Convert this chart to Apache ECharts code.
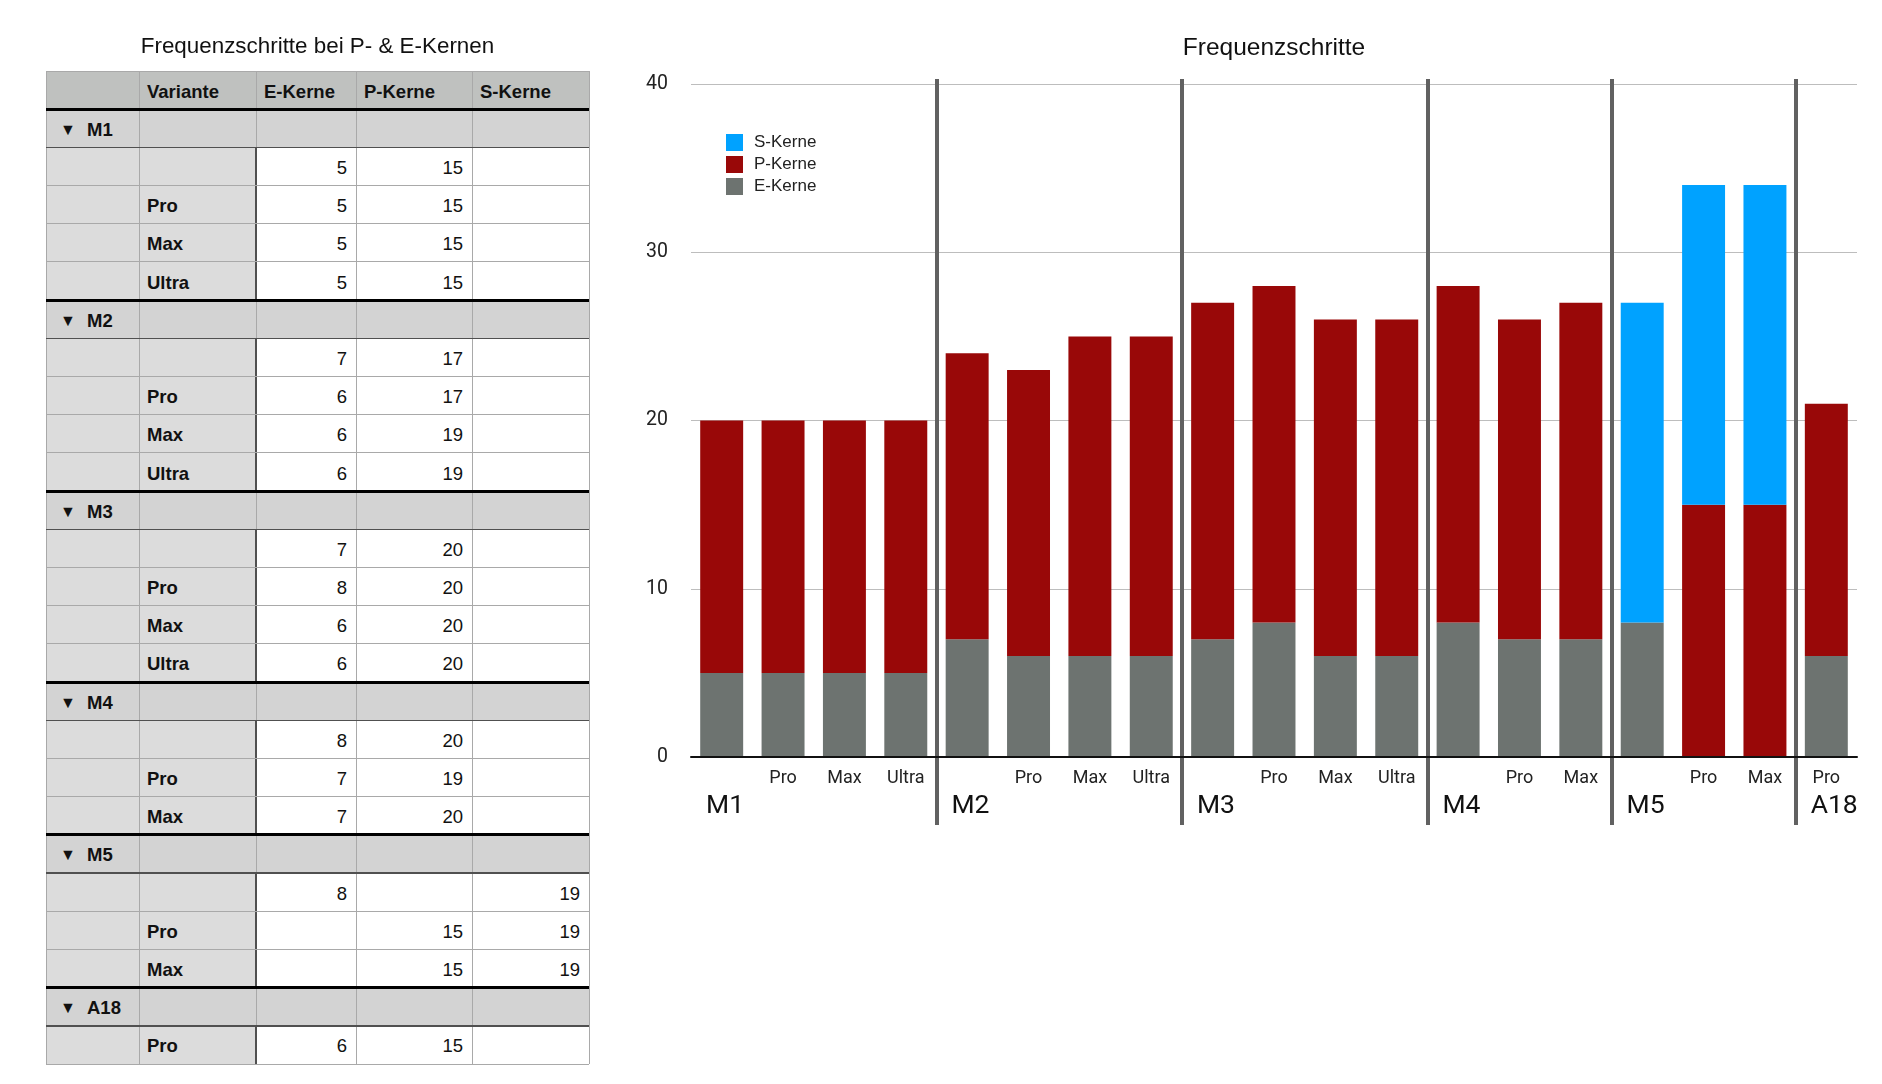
<!DOCTYPE html>
<html><head><meta charset="utf-8">
<script src="https://cdn.jsdelivr.net/npm/echarts@6/dist/echarts.min.js"></script>
<style>
html,body{margin:0;padding:0;background:#fff;width:1882px;height:1084px;overflow:hidden;}
#chart{position:absolute;left:0;top:0;width:1882px;height:1084px;}
#table{position:absolute;left:0;top:0;width:640px;height:1084px;font-family:"Liberation Sans",Arial,sans-serif;color:#111;}
.cell{position:absolute;box-sizing:border-box;display:flex;align-items:center;font-size:18.5px;white-space:nowrap;padding-top:3px;}
.ln{position:absolute;}
.ttl{position:absolute;font-size:22.4px;white-space:nowrap;transform:translate(-50%,-50%);}
</style></head><body>
<div id="chart"></div>
<div id="table"></div>
<script>
// ---- data ----
const tableTitle = 'Frequenzschritte bei P- & E-Kernen';
const chartTitle = 'Frequenzschritte';
const groups = ['M1', 'M2', 'M3', 'M4', 'M5', 'A18'];
const variants = [
  ['', 'Pro', 'Max', 'Ultra'],
  ['', 'Pro', 'Max', 'Ultra'],
  ['', 'Pro', 'Max', 'Ultra'],
  ['', 'Pro', 'Max'],
  ['', 'Pro', 'Max'],
  ['Pro']
];
const eKerne = [[5, 5, 5, 5], [7, 6, 6, 6], [7, 8, 6, 6], [8, 7, 7], [8, null, null], [6]];
const pKerne = [[15, 15, 15, 15], [17, 17, 19, 19], [20, 20, 20, 20], [20, 19, 20], [null, 15, 15], [15]];
const sKerne = [[null, null, null, null], [null, null, null, null], [null, null, null, null], [null, null, null], [19, 19, 19], [null]];
const columnHeaders = ['', 'Variante', 'E-Kerne', 'P-Kerne', 'S-Kerne'];
const seriesNames = ['E-Kerne', 'P-Kerne', 'S-Kerne'];
const yTicks = [0, 10, 20, 30, 40];

// ---- table ----
(function buildTable() {
  const T = document.getElementById('table');
  const colX = [46, 139, 256, 356, 472, 589];
  const top = 71, bottom = 1064;
  const rows = [{ t: 'h' }];
  groups.forEach((g, gi) => {
    rows.push({ t: 'g', name: g });
    variants[gi].forEach((v, vi) => rows.push({ t: 'd', v: v, vals: [eKerne[gi][vi], pKerne[gi][vi], sKerne[gi][vi]] }));
  });
  const rh = (bottom - top) / rows.length;
  const ttl = document.createElement('div');
  ttl.className = 'ttl'; ttl.textContent = tableTitle;
  ttl.style.left = ((colX[0] + colX[5]) / 2) + 'px'; ttl.style.top = '46px';
  T.appendChild(ttl);
  function cell(x, y, w, h, bg, html, opts) {
    const d = document.createElement('div');
    d.className = 'cell';
    d.style.left = x + 'px'; d.style.top = y + 'px'; d.style.width = w + 'px'; d.style.height = h + 'px';
    d.style.background = bg;
    if (opts && opts.right) { d.style.justifyContent = 'flex-end'; d.style.paddingRight = '9px'; }
    else d.style.paddingLeft = ((opts && opts.pl) || 8) + 'px';
    if (opts && opts.bold) d.style.fontWeight = 'bold';
    d.innerHTML = html;
    T.appendChild(d);
  }
  function line(x, y, w, h, c) {
    const d = document.createElement('div');
    d.className = 'ln';
    d.style.left = x + 'px'; d.style.top = y + 'px'; d.style.width = w + 'px'; d.style.height = h + 'px';
    d.style.background = c;
    T.appendChild(d);
  }
  rows.forEach((r, i) => {
    const y = top + i * rh;
    for (let c = 0; c < 5; c++) {
      const x = colX[c], w = colX[c + 1] - colX[c];
      if (r.t === 'h') cell(x, y, w, rh, '#bfc1bf', columnHeaders[c], { bold: true });
      else if (r.t === 'g') {
        const html = c === 0 ? '<span style="font-size:16px;width:27px;display:inline-block">&#9660;</span><span>' + r.name + '</span>' : '';
        cell(x, y, w, rh, '#d3d3d3', html, { bold: true, pl: 14 });
      } else {
        if (c === 0) cell(x, y, w, rh, '#dcdcdc', '');
        else if (c === 1) cell(x, y, w, rh, '#dcdcdc', r.v, { bold: true });
        else {
          const v = r.vals[c - 2];
          cell(x, y, w, rh, '#ffffff', v == null ? '' : String(v), { right: true });
        }
      }
    }
  });
  colX.forEach((x) => line(x - 0.5, top, 1, bottom - top, '#a9a9a9'));
  rows.forEach((r, i) => {
    const y = top + i * rh;
    if (r.t === 'd') line(colX[2] - 0.75, y, 1.5, rh, '#505050');
  });
  for (let i = 0; i <= rows.length; i++) {
    const y = top + i * rh;
    const prev = rows[i - 1], next = rows[i];
    const W = colX[5] - colX[0];
    if ((prev && prev.t === 'h') || (next && next.t === 'g' && prev && prev.t === 'd')) line(colX[0], y - 1.5, W, 3, '#000');
    else if (prev && prev.t === 'g') line(colX[0], y - 0.75, W, 1.5, '#505050');
    else line(colX[0], y - 0.5, W, 1, '#a9a9a9');
  }
})();

// ---- chart ----
const cats = [], eData = [], pData = [], sData = [], starts = [];
groups.forEach((g, gi) => {
  starts.push(cats.length);
  variants[gi].forEach((v, vi) => {
    cats.push(v);
    eData.push(eKerne[gi][vi] == null ? 0 : eKerne[gi][vi]);
    pData.push(pKerne[gi][vi] == null ? 0 : pKerne[gi][vi]);
    sData.push(sKerne[gi][vi] == null ? 0 : sKerne[gi][vi]);
  });
});
const boundaryLabels = [];
for (let i = 0; i <= cats.length; i++) boundaryLabels.push('');
starts.forEach((s, gi) => { boundaryLabels[s] = groups[gi]; });
const isDivider = (idx) => starts.indexOf(idx) > 0;
const dividerStyle = { color: '#616161', width: 4 };
const axisFont = 'Roboto, "Liberation Sans", sans-serif';
const textFont = '"Liberation Sans", Arial, sans-serif';

const chart = echarts.init(document.getElementById('chart'), null, { renderer: 'canvas' });
chart.setOption({
  animation: false,
  backgroundColor: 'transparent',
  graphic: [{
    type: 'text', x: 1274, y: 48,
    style: { text: chartTitle, textAlign: 'center', textVerticalAlign: 'middle', font: '24.5px ' + textFont, fill: '#111' }
  }],
  legend: {
    orient: 'vertical', left: 726, top: 134, padding: 0, itemWidth: 17, itemHeight: 17, itemGap: 5, icon: 'rect',
    data: ['S-Kerne', 'P-Kerne', 'E-Kerne'],
    textStyle: { fontSize: 17, lineHeight: 17, color: '#222', fontFamily: textFont, padding: [0, 0, 0, 6] }
  },
  grid: { left: 691, right: 25, top: 84, bottom: 327, containLabel: false },
  yAxis: {
    type: 'value', min: yTicks[0], max: yTicks[yTicks.length - 1], interval: yTicks[1] - yTicks[0],
    axisLine: { show: false }, axisTick: { show: false },
    axisLabel: { margin: 23, fontSize: 19.5, color: '#222', fontFamily: axisFont },
    splitLine: { lineStyle: { color: '#bdbdbd', width: 1.2 } }
  },
  xAxis: [{
    type: 'category', data: cats, position: 'bottom', z: 3,
    axisLine: { lineStyle: { color: '#111', width: 2 } },
    axisTick: { show: false },
    axisLabel: { interval: 0, margin: 21, verticalAlign: 'middle', fontSize: 18, color: '#222', fontFamily: axisFont }
  }, {
    type: 'category', data: boundaryLabels, boundaryGap: false, position: 'bottom', z: 1,
    axisLine: { show: false },
    axisTick: { show: true, interval: (idx) => isDivider(idx), length: 68, lineStyle: dividerStyle },
    splitLine: { show: true, interval: (idx) => isDivider(idx), lineStyle: dividerStyle },
    axisLabel: {
      interval: (idx) => boundaryLabels[idx] !== '', margin: 49, align: 'left', verticalAlign: 'middle',
      padding: [0, 0, 0, 15], fontSize: 26.5, color: '#111', fontFamily: axisFont
    }
  }, {
    type: 'category', data: boundaryLabels, boundaryGap: false, position: 'top', z: 1,
    axisLine: { show: false },
    axisTick: { show: true, interval: (idx) => isDivider(idx), length: 5, lineStyle: dividerStyle },
    axisLabel: { show: false }, splitLine: { show: false }
  }],
  series: [
    { name: seriesNames[0], type: 'bar', stack: 'k', data: eData, barCategoryGap: '30%', itemStyle: { color: '#6d7370' } },
    { name: seriesNames[1], type: 'bar', stack: 'k', data: pData, barCategoryGap: '30%', itemStyle: { color: '#990808' } },
    { name: seriesNames[2], type: 'bar', stack: 'k', data: sData, barCategoryGap: '30%', itemStyle: { color: '#00a2ff' } }
  ]
});
</script>
</body></html>
